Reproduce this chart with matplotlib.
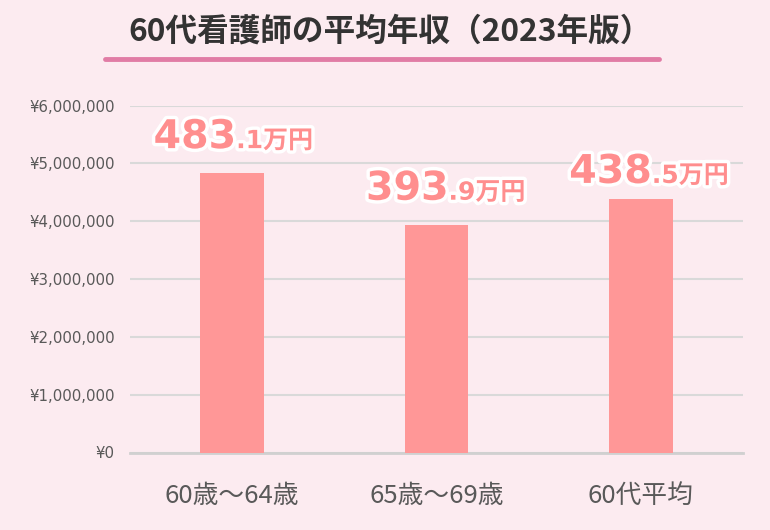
import matplotlib
matplotlib.use("Agg")
import matplotlib.pyplot as plt
import matplotlib.patheffects as pe
from matplotlib.lines import Line2D
from matplotlib.ticker import FuncFormatter

categories = ["60歳〜64歳", "65歳〜69歳", "60代平均"]
values = [4831000, 3939000, 4385000]
label_main = ["483", "393", "438"]
label_sub = [".1万円", ".9万円", ".5万円"]
title = "60代看護師の平均年収（2023年版）"

# label offsets (pixels) relative to bar top / bar center
label_dy = [25, 25, 16]
label_dx = [4, 12, 11]

BG = "#FCEBF0"
BAR = "#FF9797"
LBL = "#FF8E8E"
CJK = ["Noto Sans CJK JP", "DejaVu Sans"]

fig = plt.figure(figsize=(7.7, 5.3), dpi=100, facecolor=BG)
ax = fig.add_axes([130/770, 77.5/530, 613/770, 347/530])
ax.set_facecolor(BG)

x = list(range(len(categories)))
ax.bar(x, values, width=0.31, color=BAR, zorder=3)
ax.set_xlim(-0.5, 2.5)
ax.set_ylim(0, 6000000)
ax.set_yticks(range(0, 6000001, 1000000))
ax.yaxis.set_major_formatter(FuncFormatter(lambda v, p: "¥{:,}".format(int(v))))
ax.grid(axis="y", color="#D9D9D9", linewidth=1.5, zorder=0)
for s in ["top", "right", "left"]:
    ax.spines[s].set_visible(False)
ax.spines["bottom"].set_color("#D0D0D0")
ax.spines["bottom"].set_linewidth(2)
ax.tick_params(axis="both", length=0)
ax.tick_params(axis="y", pad=11, labelsize=10.8, labelcolor="#595959")
ax.set_xticks(x)
ax.set_xticklabels(categories, fontsize=18.5, color="#595959", family=CJK)
ax.tick_params(axis="x", pad=22)
for t in ax.get_yticklabels():
    t.set_family(["DejaVu Sans"])

stroke = [pe.withStroke(linewidth=5, foreground="white")]
for i, v in enumerate(values):
    ax.annotate(label_main[i], xy=(i, v), xytext=(label_dx[i], label_dy[i]),
                textcoords="offset pixels", ha="right", va="baseline",
                fontsize=28.5, fontweight="bold", color=LBL,
                family=["DejaVu Sans", "Noto Sans CJK JP"],
                path_effects=stroke, zorder=5, annotation_clip=False)
    ax.annotate(label_sub[i], xy=(i, v), xytext=(label_dx[i], label_dy[i]),
                textcoords="offset pixels", ha="left", va="baseline",
                fontsize=18, fontweight="bold", color=LBL,
                family=["DejaVu Sans", "Noto Sans CJK JP"],
                path_effects=stroke, zorder=5, annotation_clip=False)

fig.text(128/770, 1 - 31/530, title, fontsize=22.8, fontweight="bold", color="#333333",
         family=CJK, ha="left", va="center")
fig.add_artist(Line2D([105/770, 659/770], [1 - 59/530, 1 - 59/530], color="#E17CA5",
                      linewidth=3.5, solid_capstyle="round", transform=fig.transFigure))

fig.savefig("out.png", dpi=100, facecolor=BG)
